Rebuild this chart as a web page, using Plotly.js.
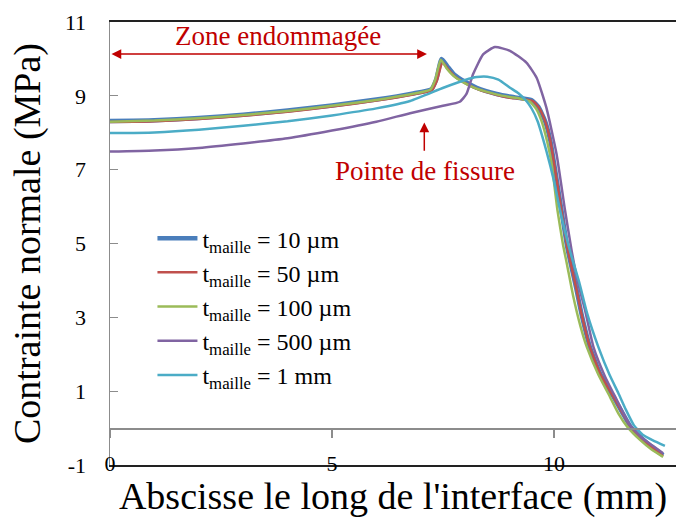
<!DOCTYPE html>
<html>
<head>
<meta charset="utf-8">
<script src="https://cdn.plot.ly/plotly-3.0.1.min.js"></script>
<style>html,body{margin:0;padding:0;background:#fff;}#chart{width:676px;height:518px;}</style>
</head>
<body>
<div id="chart"></div>
<script>
// Series names
const names = ["t<sub>maille</sub> = 10 µm", "t<sub>maille</sub> = 50 µm", "t<sub>maille</sub> = 100 µm", "t<sub>maille</sub> = 500 µm", "t<sub>maille</sub> = 1 mm"];

// t_maille = 10 µm
const x10 = [0, 1, 2, 3, 4, 5, 6, 6.8, 7.24, 7.35, 7.47, 7.6, 7.75, 8.0, 8.26, 8.71, 9.0, 9.23, 9.5, 9.65, 9.8, 9.92, 10.0, 10.17, 10.3, 10.5, 10.62, 10.81, 11.05, 11.34, 11.55, 11.72, 12.0, 12.25, 12.46];
const y10 = [8.32, 8.34, 8.40, 8.49, 8.60, 8.74, 8.90, 9.06, 9.18, 9.45, 10.0, 9.8, 9.58, 9.38, 9.22, 9.05, 8.98, 8.94, 8.88, 8.7, 8.32, 7.78, 7.2, 5.9, 4.9, 3.8, 3.1, 2.2, 1.45, 0.85, 0.4, 0.05, -0.3, -0.55, -0.74];

// t_maille = 50 µm
const x50 = [0, 1, 2, 3, 4, 5, 6, 6.8, 7.25, 7.36, 7.49, 7.62, 7.77, 8.02, 8.28, 8.72, 9.0, 9.23, 9.52, 9.66, 9.8, 9.92, 10.0, 10.17, 10.3, 10.5, 10.62, 10.81, 11.05, 11.34, 11.55, 11.72, 12.0, 12.25, 12.46];
const y50 = [8.29, 8.31, 8.37, 8.46, 8.57, 8.71, 8.87, 9.03, 9.15, 9.4, 9.9, 9.72, 9.52, 9.33, 9.18, 9.02, 8.95, 8.92, 8.86, 8.68, 8.32, 7.78, 7.2, 5.9, 4.9, 3.8, 3.1, 2.2, 1.45, 0.85, 0.4, 0.05, -0.3, -0.56, -0.76];

// t_maille = 100 µm
const x100 = [0, 1, 2, 3, 4, 5, 6, 6.8, 7.22, 7.33, 7.45, 7.58, 7.73, 7.98, 8.24, 8.7, 9.0, 9.22, 9.45, 9.6, 9.72, 9.85, 9.95, 10.08, 10.2, 10.3, 10.43, 10.6, 10.74, 11.0, 11.26, 11.45, 11.65, 11.94, 12.2, 12.46];
const y100 = [8.30, 8.33, 8.39, 8.48, 8.59, 8.73, 8.89, 9.05, 9.17, 9.45, 9.98, 9.75, 9.55, 9.35, 9.2, 9.04, 8.97, 8.93, 8.85, 8.65, 8.32, 7.75, 7.15, 5.9, 5.0, 4.4, 3.6, 2.75, 2.2, 1.45, 0.85, 0.4, 0.04, -0.32, -0.58, -0.78];

// t_maille = 500 µm
const x500 = [0, 1, 2, 3, 4, 5, 6, 6.76, 7.5, 7.88, 8.03, 8.18, 8.41, 8.67, 9.01, 9.38, 9.61, 9.83, 10.06, 10.25, 10.4, 10.53, 10.7, 10.89, 11.15, 11.4, 11.7, 12.0, 12.25, 12.46];
const y500 = [7.49, 7.52, 7.59, 7.71, 7.85, 8.06, 8.30, 8.53, 8.73, 8.84, 9.05, 9.59, 10.13, 10.32, 10.22, 9.9, 9.49, 8.68, 7.42, 5.9, 4.8, 4.0, 3.2, 2.2, 1.4, 0.8, 0.1, -0.28, -0.5, -0.68];

// t_maille = 1 mm
const x1mm = [0, 1, 2, 3, 4, 5, 6, 6.76, 7.51, 8.0, 8.26, 8.5, 8.75, 9.01, 9.2, 9.38, 9.5, 9.63, 9.83, 10.0, 10.14, 10.35, 10.57, 10.75, 11.0, 11.25, 11.45, 11.62, 11.8, 12.0, 12.23, 12.5];
const y1mm = [7.99, 8.01, 8.08, 8.19, 8.31, 8.47, 8.66, 8.86, 9.22, 9.43, 9.51, 9.52, 9.44, 9.22, 9.07, 8.86, 8.65, 8.32, 7.51, 6.7, 5.89, 4.85, 3.95, 3.1, 2.2, 1.45, 0.95, 0.5, 0.08, -0.18, -0.33, -0.48];

// Axis ticks
const yTicks = [-1, 1, 3, 5, 7, 9, 11];
const xTicks = [0, 5, 10];

const colors = ["#4A7EBB", "#C0504D", "#9BBB59", "#8064A2", "#4BACC6"];
const widths = [4.5, 2.5, 2.5, 2.5, 2.5];
const xs = [x10, x50, x100, x500, x1mm];
const ys = [y10, y50, y100, y500, y1mm];

const serif = "Liberation Serif";
const red = "#C00000";

const traces = xs.map((x, i) => ({
  x: x, y: ys[i], name: names[i], type: "scatter", mode: "lines",
  line: {color: colors[i], width: widths[i], shape: "spline", smoothing: 0.5},
  xaxis: i === 4 ? "x2" : "x",
  hoverinfo: "skip"
}));

const layout = {
  width: 676, height: 518,
  margin: {l: 110, r: 0, t: 22, b: 53},
  paper_bgcolor: "#fff", plot_bgcolor: "#fff",
  font: {family: serif, color: "#000", size: 22},
  showlegend: true,
  legend: {x: 0.075, y: 0.562, xanchor: "left", yanchor: "top", bgcolor: "rgba(0,0,0,0)",
           font: {family: serif, size: 24, color: "#000"}, tracegroupgap: 0, itemwidth: 40},
  xaxis: {
    range: [0, 12.75], tickvals: xTicks, ticktext: xTicks.map(String),
    showgrid: false, zeroline: false, showline: true, linecolor: "#222", linewidth: 2, mirror: true,
    ticks: "", ticklabelstandoff: -22,
    tickfont: {family: serif, size: 22, color: "#000"},
    title: {text: "Abscisse le long de l'interface (mm)", font: {family: serif, size: 38, color: "#000"}, standoff: 0}
  },
  xaxis2: {
    overlaying: "x", matches: "x", anchor: "free", position: 1/12,
    tickvals: xTicks, showticklabels: false, ticks: "outside", ticklen: 8, tickcolor: "#8c8c8c", tickwidth: 1.2,
    showgrid: false, zeroline: false, showline: true, linecolor: "#8c8c8c", linewidth: 1.5
  },
  yaxis: {
    range: [-1, 11], tickvals: yTicks, ticktext: yTicks.map(String),
    showgrid: false, zeroline: false, showline: true, linecolor: "#8c8c8c", linewidth: 1.5,
    ticks: "inside", ticklen: 8, tickcolor: "#8c8c8c", tickwidth: 1.2, ticklabelstandoff: 18,
    tickfont: {family: serif, size: 22, color: "#000"},
    title: {text: "Contrainte normale (MPa)", font: {family: serif, size: 38, color: "#000"}, standoff: 12}
  },
  annotations: [
    {x: 7.14, y: 10.13, ax: 0, ay: 10.13, xref: "x", yref: "y", axref: "x", ayref: "y",
     text: "", showarrow: true, arrowhead: 2, startarrowhead: 2, arrowside: "end+start",
     arrowsize: 1.3, startarrowsize: 1.3, arrowwidth: 1.5, arrowcolor: red, standoff: 0, startstandoff: 0},
    {x: 3.78, y: 10.62, xref: "x", yref: "y", text: "Zone endommagée", showarrow: false,
     font: {family: serif, size: 27, color: red}},
    {x: 7.08, y: 8.28, ax: 7.08, ay: 7.47, xref: "x", yref: "y", axref: "x", ayref: "y",
     text: "", showarrow: true, arrowhead: 2, arrowsize: 1.3, arrowwidth: 1.5, arrowcolor: red, standoff: 0},
    {x: 7.09, y: 6.97, xref: "x", yref: "y", text: "Pointe de fissure", showarrow: false,
     font: {family: serif, size: 27, color: red}}
  ]
};

Plotly.newPlot("chart", traces, layout, {displayModeBar: false, staticPlot: true});
</script>
</body>
</html>
